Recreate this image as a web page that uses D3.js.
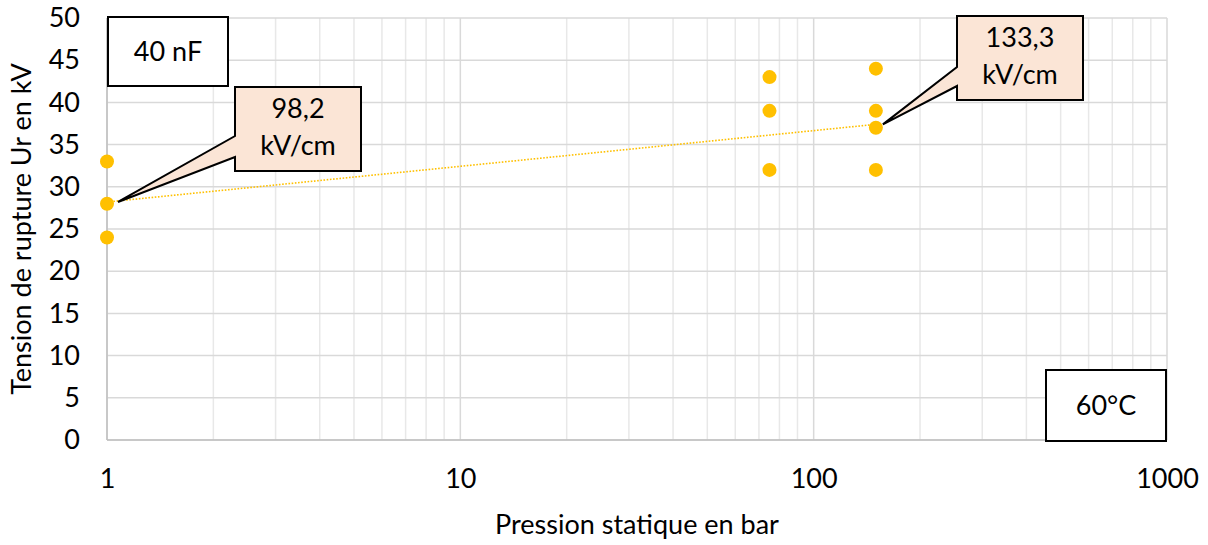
<!DOCTYPE html>
<html>
<head>
<meta charset="utf-8">
<script src="https://cdn.jsdelivr.net/npm/d3@7"></script>
<style>
  html, body { margin: 0; padding: 0; background: #fff; }
  svg { display: block; }
  text { font-family: Lato, "Open Sans", sans-serif; fill: #000; }
</style>
</head>
<body>
<svg id="chart" width="1208" height="545"></svg>
<script>
// ---- data ----
const pressure = [1, 1, 1, 75, 75, 75, 150, 150, 150, 150];
const voltage  = [33, 28, 24, 43, 39, 32, 44, 39, 37, 32];
const trendX = [1, 150];
const trendY = [28.2, 37.4];
const xTicks = [1, 10, 100, 1000];
const yTicks = [0, 5, 10, 15, 20, 25, 30, 35, 40, 45, 50];
const xTitle = "Pression statique en bar";
const yTitle = "Tension de rupture Ur en kV";
const callouts = [
  { lines: ["98,2", "kV/cm"], px: 1, py: 28.2 },
  { lines: ["133,3", "kV/cm"], px: 150, py: 37.4 }
];
const labelBoxes = ["40 nF", "60°C"];

// ---- layout ----
const svg = d3.select("#chart");
const m = { left: 107, top: 18, right: 1167, bottom: 440 };
const x = d3.scaleLog().domain([1, 1000]).range([m.left, m.right]);
const y = d3.scaleLinear().domain([0, 50]).range([m.bottom, m.top]);
const FS = 27;

// minor vertical gridlines
const minor = [];
for (let d = 1; d < 1000; d *= 10) for (let k = 2; k <= 9; k++) minor.push(d * k);
svg.append("g").selectAll("line").data(minor).join("line")
  .attr("x1", d => x(d)).attr("x2", d => x(d))
  .attr("y1", m.top).attr("y2", m.bottom)
  .attr("stroke", "#e8e8e8").attr("stroke-width", 1.5);
// major vertical
svg.append("g").selectAll("line").data(xTicks).join("line")
  .attr("x1", d => x(d)).attr("x2", d => x(d))
  .attr("y1", m.top).attr("y2", m.bottom)
  .attr("stroke", "#d9d9d9").attr("stroke-width", 1.5);
// horizontal
svg.append("g").selectAll("line").data(yTicks).join("line")
  .attr("x1", m.left).attr("x2", m.right)
  .attr("y1", d => y(d)).attr("y2", d => y(d))
  .attr("stroke", "#d9d9d9").attr("stroke-width", 1.5);
// axis lines
svg.append("line").attr("x1", m.left).attr("x2", m.right).attr("y1", m.bottom).attr("y2", m.bottom)
  .attr("stroke", "#bfbfbf").attr("stroke-width", 1.5);
svg.append("line").attr("x1", m.left).attr("x2", m.left).attr("y1", m.top).attr("y2", m.bottom)
  .attr("stroke", "#bfbfbf").attr("stroke-width", 1.5);

// axes via d3 (labels only)
const xAxis = svg.append("g").attr("transform", `translate(0,${m.bottom})`)
  .call(d3.axisBottom(x).tickValues(xTicks).tickFormat(d3.format("d")).tickSize(0).tickPadding(29));
const yAxis = svg.append("g").attr("transform", `translate(${m.left},0)`)
  .call(d3.axisLeft(y).tickValues(yTicks).tickSize(0).tickPadding(27));
[xAxis, yAxis].forEach(g => {
  g.select(".domain").remove();
  g.selectAll("text").attr("font-size", FS).attr("font-family", "Lato, sans-serif").attr("fill", "#000");
});

// titles
svg.append("text").attr("x", 637).attr("y", 534).attr("text-anchor", "middle")
  .attr("font-size", FS).text(xTitle);
svg.append("text").attr("transform", `translate(31,${(m.top + m.bottom) / 2}) rotate(-90)`)
  .attr("text-anchor", "middle").attr("font-size", FS).text(yTitle);

// trendline
svg.append("path")
  .datum(trendX.map((d, i) => [d, trendY[i]]))
  .attr("d", d3.line().x(d => x(d[0])).y(d => y(d[1])))
  .attr("fill", "none").attr("stroke", "#FFC000").attr("stroke-width", 1.6)
  .attr("stroke-dasharray", "1.6,1.6");

// points
svg.append("g").selectAll("circle").data(pressure.map((p, i) => [p, voltage[i]])).join("circle")
  .attr("cx", d => x(d[0])).attr("cy", d => y(d[1])).attr("r", 7)
  .attr("fill", "#FFC000");

// callouts
const calloutGeom = [
  { bx: 235, by: 87, bw: 126, bh: 84, p1: 49, p2: 70, tipDx: 11, tipDy: 0 },
  { bx: 957, by: 16, bw: 126, bh: 84, p1: 51, p2: 70, tipDx: 7, tipDy: 0 }
];
callouts.forEach((c, i) => {
  const g = calloutGeom[i];
  const tx = x(c.px) + g.tipDx, ty = y(c.py) + g.tipDy;
  const pts = [
    [g.bx, g.by], [g.bx + g.bw, g.by], [g.bx + g.bw, g.by + g.bh], [g.bx, g.by + g.bh],
    [g.bx, g.by + g.p2], [tx, ty], [g.bx, g.by + g.p1]
  ];
  svg.append("path").attr("d", "M" + pts.map(p => p.join(",")).join("L") + "Z")
    .attr("fill", "#FBE5D6").attr("stroke", "#000").attr("stroke-width", 2)
    .attr("stroke-linejoin", "miter");
  c.lines.forEach((t, j) => {
    svg.append("text").attr("x", g.bx + g.bw / 2).attr("y", g.by + 31 + j * 37)
      .attr("text-anchor", "middle").attr("font-size", FS).text(t);
  });
});

// label boxes
const boxGeom = [
  { x: 108, y: 17, w: 120, h: 69 },
  { x: 1046, y: 370, w: 120, h: 71 }
];
labelBoxes.forEach((t, i) => {
  const b = boxGeom[i];
  svg.append("rect").attr("x", b.x).attr("y", b.y).attr("width", b.w).attr("height", b.h)
    .attr("fill", "#fff").attr("stroke", "#000").attr("stroke-width", 2);
  svg.append("text").attr("x", b.x + b.w / 2).attr("y", b.y + b.h / 2 + 9)
    .attr("text-anchor", "middle").attr("font-size", FS).text(t);
});
</script>
</body>
</html>
